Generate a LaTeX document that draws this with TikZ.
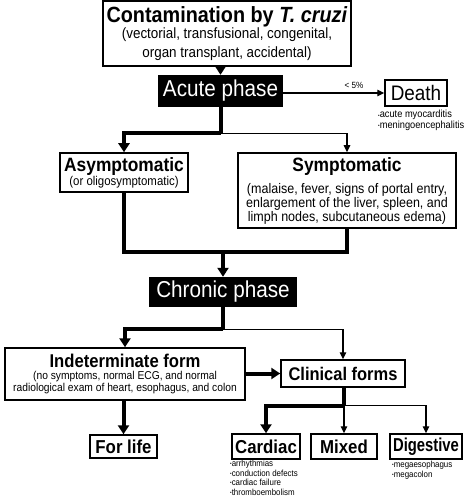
\documentclass[tikz,border=0pt]{standalone}
\usepackage{fontspec}
\setmainfont{Liberation Sans}[FakeStretch=0.9]
\usetikzlibrary{arrows.meta,calc}
\newcommand\fsz[2]{\fontsize{#1}{#2}\selectfont}
\newcommand\bul{{\fsz{5}{5}\raisebox{0.6pt}{•}}}
\begin{document}
\begin{tikzpicture}[x=1pt,y=-1pt,
  box/.style={draw,line width=1.5pt,inner sep=0pt,align=center,fill=white},
  darkbox/.style={fill=black,text=white,inner sep=0pt,font=\fsz{23}{23}},
  thickline/.style={line width=4pt,line join=miter},
  thickarrow/.style={line width=4pt,-{Triangle[length=9pt,width=11pt]}},
  thinarrow/.style={line width=1.3pt,-{Triangle[length=7pt,width=6.5pt]}},
  note/.style={font=\fsz{8.8}{9.5},align=left,inner sep=0pt,anchor=north west},
]
\fill[white] (0,0) rectangle (466,502);
\useasboundingbox (0,0) rectangle (466,502);

\node[box,line width=2pt,minimum width=248pt,minimum height=65pt,font=\fsz{14.9}{18.5}] (contam) at (227,33.5)
  {{\fsz{22}{22}\bfseries Contamination by \textit{T. cruzi}}\\[-2.5pt]
   (vectorial, transfusional, congenital,\\ organ transplant, accidental)};
\node[darkbox,minimum width=125pt,minimum height=32pt] (acute) at (220.5,91) {Acute phase};
\node[box,minimum width=62pt,minimum height=26pt,font=\fsz{21}{21}] (death) at (416,93) {Death};
\node[note,font=\fsz{10.3}{9}] (deathnotes) at (378,110) {\bul acute myocarditis\\\bul meningoencephalitis};

\node[box,minimum width=128pt,minimum height=39pt,font=\fsz{12.7}{14}] (asym) at (124,172.5)
  {{\fsz{19.3}{19.3}\bfseries Asymptomatic}\\(or oligosymptomatic)};
\node[box,minimum width=218pt,minimum height=75pt,font=\fsz{13.9}{14}] (symp) at (347,190.5)
  {{\fsz{19.3}{19.3}\bfseries Symptomatic}\\[7pt]
   (malaise, fever, signs of portal entry,\\ enlargement of the liver, spleen, and\\ limph nodes, subcutaneous edema)};

\node[darkbox,minimum width=148pt,minimum height=30pt] (chronic) at (223,292) {Chronic phase};

\node[box,minimum width=240pt,minimum height=52pt,font=\fsz{11.4}{12.5}] (indet) at (125,374)
  {{\fsz{18.5}{18.5}\bfseries Indeterminate form}\\[-0.5pt]
   (no symptoms, normal ECG, and normal\\ radiological exam of heart, esophagus, and colon};
\node[box,minimum width=124pt,minimum height=27pt,font=\fsz{18.3}{18.3}\bfseries] (clinical) at (343,373.5) {Clinical forms};

\node[box,minimum width=67pt,minimum height=23pt,font=\fsz{18.7}{18.7}\bfseries] (forlife) at (123.5,446.5) {For life};
\node[box,minimum width=68pt,minimum height=25pt,font=\fsz{18.7}{18.7}\bfseries] (cardiac) at (266,446.5) {Cardiac};
\node[box,minimum width=66pt,minimum height=25pt,font=\fsz{18.7}{18.7}\bfseries] (mixed) at (344,446.5) {Mixed};
\node[box,minimum width=72pt,minimum height=25pt,font=\fsz{18.7}{18.7}\bfseries] (digestive) at (426,446.5) {\scalebox{0.88}[1]{Digestive}};

\node[note] (cardnotes) at (230,460) {\bul arrhythmias\\\bul conduction defects\\\bul cardiac failure\\\bul thromboembolism};
\node[note] (dignotes) at (392,461) {\bul megaesophagus\\\bul megacolon};

% connectors
\draw[thickarrow] (contam.south -| acute.north) -- (acute.north);
\draw[thinarrow] ($(acute.east)+(0,2)$) -- node[pos=0.7,above=0.5pt,font=\fsz{9}{9}] (lt5) {< 5\%} ($(acute.east -| death.west)+(0,2)$);

\coordinate (a1) at ($(acute.south)+(0,26)$);
\draw[thickline] (acute.south) -- (a1);
\draw[thickarrow] (a1) -| (asym.north);
\draw[thinarrow] (a1) -| (symp.north);

\coordinate (s1) at ($(chronic.north)+(0,-25)$);
\draw[thickline] (asym.south) |- (s1) -| (symp.south);
\draw[thickarrow] (s1) -- (chronic.north);

\coordinate (c1) at ($(chronic.south)+(0,22)$);
\draw[thickline] (chronic.south) -- (c1);
\draw[thickarrow] (c1) -| (indet.north);
\draw[thinarrow] (c1) -| (clinical.north);

\draw[thickarrow] (indet.east |- clinical.west) -- (clinical.west);
\draw[thickarrow] (indet.south -| forlife.north) -- (forlife.north);

\coordinate (k1) at ($(clinical.south)+(1,18)$);
\draw[thickline] (clinical.south -| k1) -- (k1);
\draw[thickarrow] (k1) -| (cardiac.north);
\draw[thinarrow] (k1) -| (digestive.north);
\draw[thinarrow] (k1) -- (k1 |- mixed.north);
\end{tikzpicture}
\end{document}
